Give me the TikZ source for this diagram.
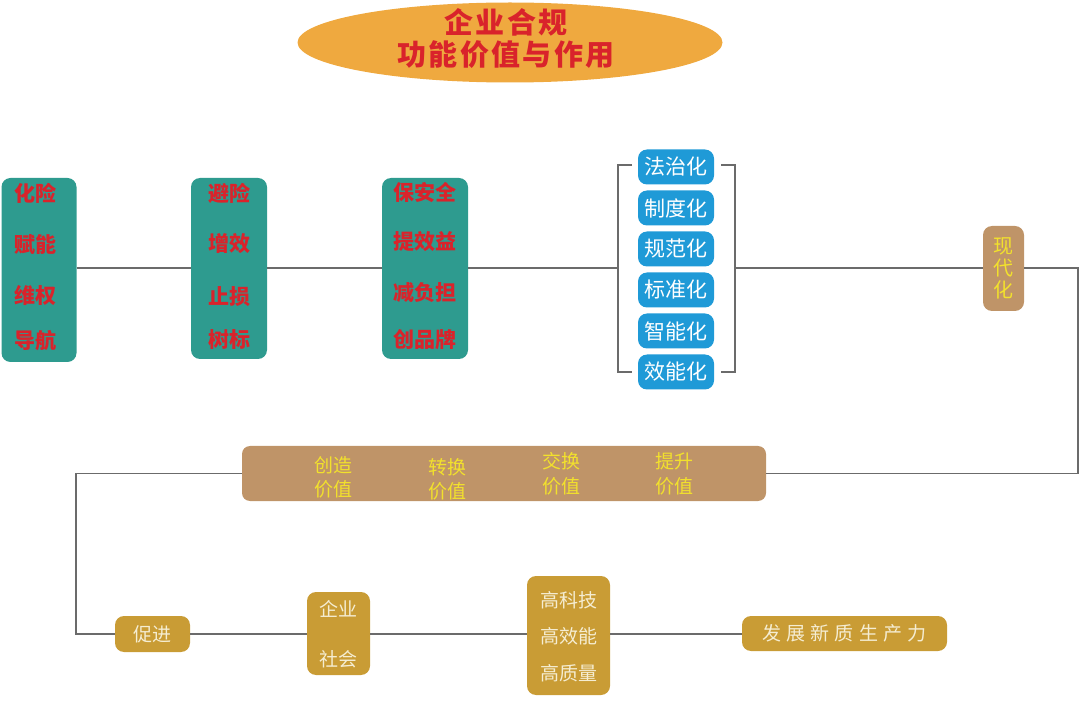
\documentclass[tikz,border=0pt]{standalone}
\usepackage{fontspec}
\usetikzlibrary{shapes.geometric}
\newfontfamily\cjk{Noto Sans CJK SC}
\newfontfamily\cjkwide{Noto Sans CJK SC}[LetterSpace=28]
\newfontfamily\cjktitle{Noto Sans CJK SC}[LetterSpace=8]

\definecolor{titleorange}{HTML}{EFA93F}
\definecolor{titlered}{HTML}{D9232B}
\definecolor{teal}{HTML}{2E9B8F}
\definecolor{skyblue}{HTML}{1F9AD7}
\definecolor{tan}{HTML}{BF9468}
\definecolor{lemon}{HTML}{F2E12C}
\definecolor{gold}{HTML}{C99C35}
\definecolor{cream}{HTML}{F5EDD2}
\definecolor{linegray}{HTML}{6B6B6B}

\begin{document}
\begin{tikzpicture}[x=1pt, y=-1pt,
    box/.style={rectangle, rounded corners=9pt, inner sep=0pt},
    redtxt/.style={inner sep=0pt, text=titlered, font=\cjk\bfseries\fontsize{21}{24}\selectfont},
    pill/.style={box, fill=skyblue, minimum width=76pt, minimum height=35pt, text=white,
                 font=\cjk\fontsize{21}{24}\selectfont},
    yeltxt/.style={inner sep=0pt, text=lemon, font=\cjk\fontsize{19}{22}\selectfont},
    goldbox/.style={box, fill=gold, text=cream, font=\cjk\fontsize{19}{22}\selectfont},
    creamtxt/.style={inner sep=0pt, text=cream, font=\cjk\fontsize{19}{22}\selectfont},
    link/.style={draw=linegray, line width=1.6pt}]
        \useasboundingbox (0,0) rectangle (1080,703);

        % Title
        \node[ellipse, fill=titleorange, inner sep=0pt, minimum width=425pt, minimum height=80pt]
              (title) at (510,42.5) {};
        \node[inner sep=0pt, text=titlered, font=\cjktitle\bfseries\fontsize{29}{32}\selectfont]
              (title1) at (506,22) {企业合规};
        \node[inner sep=0pt, text=titlered, font=\cjktitle\bfseries\fontsize{29}{32}\selectfont]
              (title2) at (506,55) {功能价值与作用};

        % Three teal boxes
        \node[box, fill=teal, minimum width=75pt, minimum height=184pt] (risk) at (39,270) {};
        \node[box, fill=teal, minimum width=76pt, minimum height=181pt] (gain) at (229,268.5) {};
        \node[box, fill=teal, minimum width=86pt, minimum height=181pt] (safe) at (425,268.5) {};

        \node[redtxt] (r1) at (35,193) {化险};
        \node[redtxt] (r2) at (35,245) {赋能};
        \node[redtxt] (r3) at (35,296) {维权};
        \node[redtxt] (r4) at (35,341) {导航};

        \node[redtxt] (g1) at (229,193) {避险};
        \node[redtxt] (g2) at (229,244) {增效};
        \node[redtxt] (g3) at (229,297) {止损};
        \node[redtxt] (g4) at (229,340) {树标};

        \node[redtxt] (s1) at (425,193) {保安全};
        \node[redtxt] (s2) at (425,242) {提效益};
        \node[redtxt] (s3) at (425,293) {减负担};
        \node[redtxt] (s4) at (425,340) {创品牌};

        % Blue pills in brackets
        \node[pill] (p1) at (676,167) {法治化};
        \node[pill] (p2) at (676,208) {制度化};
        \node[pill] (p3) at (676,249) {规范化};
        \node[pill] (p4) at (676,290) {标准化};
        \node[pill] (p5) at (676,331) {智能化};
        \node[pill] (p6) at (676,372) {效能化};

        \coordinate (brl) at (618,268);
        \coordinate (brr) at (735,268);
        \draw[linegray, line width=1.6pt] (632,165) -| (618,372) -- (632,372);
        \draw[linegray, line width=1.6pt] (721,165) -| (735,372) -- (721,372);

        % Modernisation
        \node[box, fill=tan, minimum width=41pt, minimum height=85pt, text=lemon, align=center,
              font=\cjk\fontsize{20}{22}\selectfont] (modern) at (1003.5,268.5) {现\\代\\化};

        % Value bar
        \node[box, fill=tan, rounded corners=8pt, minimum width=524pt, minimum height=55pt] (value) at (504,473.5) {};
        \node[yeltxt] (v1a) at (333,465) {创造};
        \node[yeltxt] (v1b) at (333,489) {价值};
        \node[yeltxt] (v2a) at (447,467) {转换};
        \node[yeltxt] (v2b) at (447,491) {价值};
        \node[yeltxt] (v3a) at (561,461) {交换};
        \node[yeltxt] (v3b) at (561,486) {价值};
        \node[yeltxt] (v4a) at (674,461) {提升};
        \node[yeltxt] (v4b) at (674,486) {价值};

        % Bottom row
        \node[goldbox, minimum width=75pt, minimum height=36pt] (push) at (152.5,634) {促进};
        \node[goldbox, minimum width=63pt, minimum height=83pt] (firm) at (338.5,633.5) {};
        \node[creamtxt] (f1) at (338.5,609) {企业};
        \node[creamtxt] (f2) at (338.5,659) {社会};
        \node[goldbox, minimum width=83pt, minimum height=119pt] (high) at (568.5,635.5) {};
        \node[creamtxt] (h1) at (568.5,600) {高科技};
        \node[creamtxt] (h2) at (568.5,636) {高效能};
        \node[creamtxt] (h3) at (568.5,673) {高质量};
        \node[goldbox, minimum width=205pt, minimum height=35pt,
              font=\cjkwide\fontsize{19}{22}\selectfont] (goal) at (844.5,633.5) {发展新质生产力};

        % Connectors
        \coordinate (rc) at (1078,268);
        \coordinate (lc) at (76,634);
        \draw[link] (risk.east |- brl) -- (gain.west |- brl);
        \draw[link] (gain.east |- brl) -- (safe.west |- brl);
        \draw[link] (safe.east |- brl) -- (brl);
        \draw[link] (brr) -- (modern.west |- brr);
        \draw[link] (modern.east |- brr) -- (rc) |- (value.east);
        \draw[link] (value.west) -| (lc) -- (push.west);
        \draw[link] (push.east) -- (firm.west |- push.east);
        \draw[link] (firm.east |- push.east) -- (high.west |- push.east);
        \draw[link] (high.east |- push.east) -- (goal.west |- push.east);
    \end{tikzpicture}
\end{document}
